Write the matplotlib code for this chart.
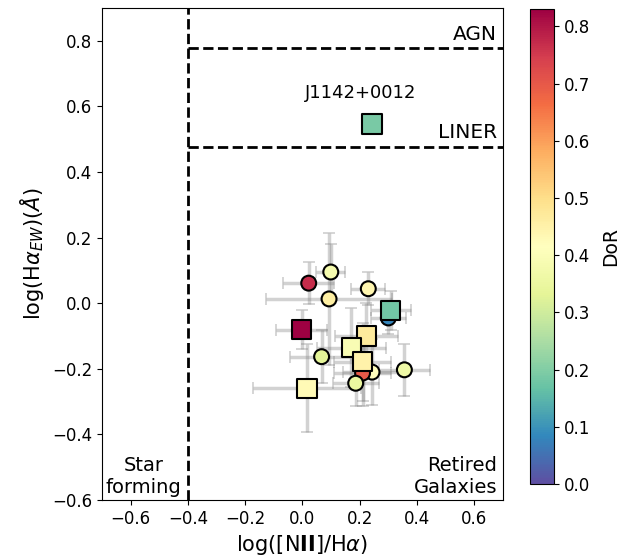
"""WHAN diagram of the galaxy sample coloured by DoR."""

import matplotlib
matplotlib.use("Agg")
import numpy as np
from matplotlib import pyplot as plt

# circles: log([NII]/Ha), log(EW Ha), errors and DoR
circ_x = [0.022, 0.099, 0.093, 0.230, 0.067, 0.243, 0.210, 0.186, 0.356, 0.300]
circ_y = [0.061, 0.095, 0.013, 0.044, -0.163, -0.210, -0.213, -0.244, -0.203, -0.045]
circ_xerr = [0.09, 0.05, 0.22, 0.06, 0.11, 0.10, 0.10, 0.08, 0.09, 0.06]
circ_yerr = [0.065, 0.085, 0.20, 0.05, 0.08, 0.10, 0.10, 0.07, 0.08, 0.05]
circ_dor = [0.77, 0.38, 0.46, 0.44, 0.33, 0.42, 0.70, 0.35, 0.36, 0.08]

# squares
sq_x = [-0.003, 0.309, 0.223, 0.171, 0.210, 0.016]
sq_y = [-0.081, -0.022, -0.100, -0.136, -0.179, -0.259]
sq_xerr = [0.09, 0.07, 0.11, 0.12, 0.10, 0.19]
sq_yerr = [0.06, 0.06, 0.10, 0.12, 0.12, 0.134]
sq_dor = [0.83, 0.18, 0.47, 0.39, 0.45, 0.43]

# highlighted object
obj_name = "J1142+0012"
obj_x = 0.244
obj_y = 0.547
obj_dor = 0.19

VMIN, VMAX = 0.0, 0.83
CMAP = "Spectral_r"

fig = plt.figure(figsize=(6.33, 5.6), dpi=100)
ax = fig.add_axes([0.161, 0.107, 0.6335, 0.879])
cax = fig.add_axes([0.837, 0.1357, 0.038, 0.848])

err_kw = dict(fmt="none", ecolor="grey", alpha=0.35, elinewidth=2.5, capsize=4, capthick=1.3, zorder=1)
ax.errorbar(circ_x, circ_y, xerr=circ_xerr, yerr=circ_yerr, **err_kw)
ax.errorbar(sq_x, sq_y, xerr=sq_xerr, yerr=sq_yerr, **err_kw)

ax.scatter(circ_x, circ_y, c=circ_dor, cmap=CMAP, vmin=VMIN, vmax=VMAX, marker="o",
           s=115, edgecolors="black", linewidths=1.5, zorder=3)
sc = ax.scatter(sq_x, sq_y, c=sq_dor, cmap=CMAP, vmin=VMIN, vmax=VMAX, marker="s",
                s=190, edgecolors="black", linewidths=1.5, zorder=4)
ax.scatter([obj_x], [obj_y], c=[obj_dor], cmap=CMAP, vmin=VMIN, vmax=VMAX, marker="s",
           s=190, edgecolors="black", linewidths=1.5, zorder=4)
ax.text(obj_x - 0.04, obj_y + 0.065, obj_name, ha="center", va="bottom", fontsize=13)

# WHAN dividing lines
ax.axvline(-0.4, color="black", ls="--", lw=2)
ax.plot([-0.4, 0.7], [np.log10(6), np.log10(6)], color="black", ls="--", lw=2)
ax.plot([-0.4, 0.7], [np.log10(3), np.log10(3)], color="black", ls="--", lw=2)

ax.text(0.68, 0.79, "AGN", ha="right", va="bottom", fontsize=14.5)
ax.text(0.68, 0.49, "LINER", ha="right", va="bottom", fontsize=14.5)
ax.text(-0.555, -0.59, "Star\nforming", ha="center", va="bottom", fontsize=14,
        multialignment="center")
ax.text(0.68, -0.59, "Retired\nGalaxies", ha="right", va="bottom", fontsize=14,
        multialignment="right")

ax.set_xlim(-0.7, 0.7)
ax.set_ylim(-0.6, 0.9)
ax.set_xticks(np.arange(-0.6, 0.61, 0.2))
ax.set_yticks(np.arange(-0.6, 0.81, 0.2))
ax.tick_params(labelsize=12)
ax.set_xlabel(r"log([N$\mathbf{II}$]/H$\alpha$)", fontsize=15)
ax.set_ylabel(r"log(H$\alpha_{EW}$)($\AA$)", fontsize=15)

cbar = fig.colorbar(sc, cax=cax)
cbar.set_label("DoR", fontsize=13.5, labelpad=8)
cbar.ax.tick_params(labelsize=12)

fig.savefig("out.png", dpi=100)
